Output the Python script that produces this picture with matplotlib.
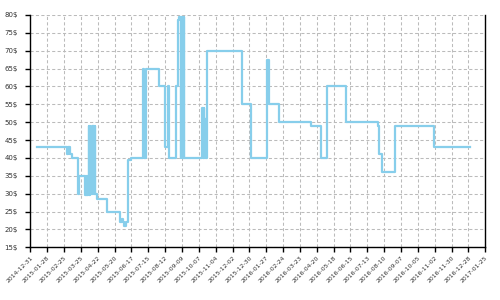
import matplotlib
matplotlib.use("Agg")
import matplotlib.pyplot as plt
import pandas as pd

dates = [
    "2015-01-11", "2015-03-02", "2015-03-03", "2015-03-05", "2015-03-06", "2015-03-07",
    "2015-03-11", "2015-03-20", "2015-03-22", "2015-04-01", "2015-04-02", "2015-04-03",
    "2015-04-04", "2015-04-05", "2015-04-06", "2015-04-07", "2015-04-08", "2015-04-09",
    "2015-04-10", "2015-04-13", "2015-04-14", "2015-04-15", "2015-04-16", "2015-04-17",
    "2015-04-18", "2015-04-20", "2015-05-07", "2015-05-29", "2015-06-01", "2015-06-03",
    "2015-06-04", "2015-06-08", "2015-06-12", "2015-06-17", "2015-07-07", "2015-07-08",
    "2015-07-12", "2015-08-02", "2015-08-11", "2015-08-16", "2015-08-19", "2015-08-30",
    "2015-09-02", "2015-09-04", "2015-09-07", "2015-09-08", "2015-09-09", "2015-09-10",
    "2015-09-11", "2015-09-12", "2015-09-13", "2015-10-13", "2015-10-14", "2015-10-15",
    "2015-10-16", "2015-10-17", "2015-10-18", "2015-10-19", "2015-10-21", "2015-12-17",
    "2016-01-01", "2016-01-28", "2016-02-01", "2016-02-17", "2016-04-11", "2016-04-27",
    "2016-05-07", "2016-06-07", "2016-07-31", "2016-08-02", "2016-08-06", "2016-08-28",
    "2016-11-01", "2016-12-31",
]
prices = [
    43, 41, 43, 41, 43, 41,
    40, 30, 35, 29.5, 35, 29.5,
    35, 29.5, 35, 49, 29.5, 49,
    30, 49, 30, 49, 30, 49,
    30, 28.5, 25, 22, 23, 22,
    21, 22, 39.5, 40, 65, 40,
    65, 60, 43, 60, 40, 60,
    78.5, 79.5, 40, 79.5, 40, 79.5,
    40, 79.5, 40, 54, 40, 54,
    51, 40, 51, 40, 70, 55,
    40, 67.5, 55, 50, 49, 40,
    60, 50, 49, 41, 36, 49,
    43, 43,
]

tick_start = "2014-12-31"
tick_end = "2017-01-25"
y_ticks = [15, 20, 25, 30, 35, 40, 45, 50, 55, 60, 65, 70, 75, 80]

x = pd.to_datetime(dates)
xticks = pd.date_range(tick_start, tick_end, freq="28D")

fig = plt.figure(figsize=(5, 3), dpi=100)
ax = fig.add_axes([0.0606, 0.1757, 0.9100, 0.7743])

ax.step(x, prices, where="post", color="#87CEEB", lw=1.6, zorder=3)

ax.set_xlim(pd.Timestamp(tick_start), pd.Timestamp(tick_end))
ax.set_ylim(15, 80)
ax.set_yticks(y_ticks)
ax.set_yticklabels([f"{v}$" for v in y_ticks])
ax.set_xticks(xticks)
ax.set_xticklabels([d.strftime("%Y-%m-%d") for d in xticks], rotation=45,
                   ha="right", rotation_mode="anchor")

ax.grid(True, color="#bbbbbb", lw=0.75, linestyle=(0, (3, 2.2)), zorder=0)
ax.set_axisbelow(True)

for s in ["left", "bottom", "right"]:
    ax.spines[s].set_color("black")
    ax.spines[s].set_linewidth(1.0)
ax.spines["top"].set_visible(False)

ax.tick_params(axis="y", length=3.5, width=1, color="black", pad=5.5,
               labelsize=5.0, labelcolor="#333333")
ax.tick_params(axis="x", length=3.5, width=1, color="black", pad=2,
               labelsize=4.4, labelcolor="#333333")

fig.savefig("out.png", dpi=100)
